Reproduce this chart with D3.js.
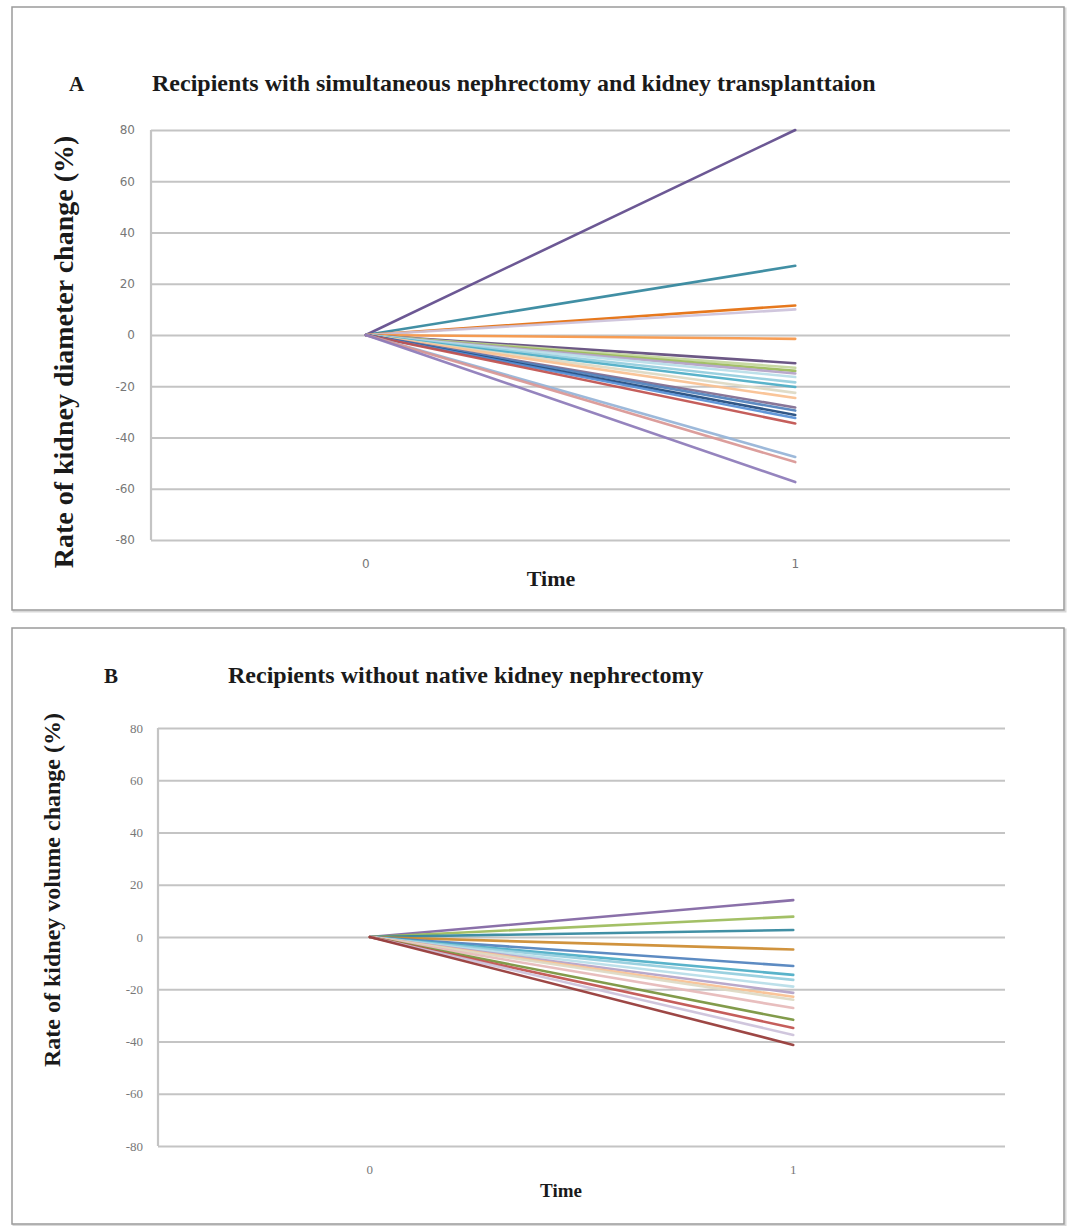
<!DOCTYPE html>
<html>
<head>
<meta charset="utf-8">
<script src="https://cdn.jsdelivr.net/npm/d3@7"></script>
<style>
  body { margin: 0; background: #fff; }
  svg { display: block; }
</style>
</head>
<body>
<svg id="chart" width="1069" height="1226"></svg>
<script>
// time points (categories on the x axis)
var timePoints = ["0", "1"];
var yTicks = [-80, -60, -40, -20, 0, 20, 40, 60, 80];

// panel A: rate of kidney diameter change (%), values at time 0 and 1
var seriesA = [
  [0, 80], [0, 27], [0, 11.5], [0, 10], [0, -1.5], [0, -11],
  [0, -12.8], [0, -14], [0, -15], [0, -16.4], [0, -18.5], [0, -20.3],
  [0, -22.6], [0, -24.6], [0, -28.3], [0, -29.5], [0, -31.2], [0, -32.4],
  [0, -34.5], [0, -47.6], [0, -49.6], [0, -57.4]
];
var colorsA = [
  "#5f4a8b", "#31859c", "#e46c0a", "#ccc1da", "#f79646", "#604a7b",
  "#c3d69b", "#9bbb59", "#b3a2c7", "#b7dde8", "#93cddd", "#4bacc6",
  "#ddd9c3", "#fac090", "#7f6a8f", "#4f81bd", "#1f497d", "#558ed5",
  "#c0504d", "#95b3d7", "#d99694", "#8c7ab8"
];

// panel B: rate of kidney volume change (%), values at time 0 and 1
var seriesB = [
  [0, 14.1], [0, 7.8], [0, 2.7], [0, -4.8], [0, -11.1], [0, -14.5],
  [0, -16.4], [0, -19], [0, -21.4], [0, -22.9], [0, -24], [0, -27.2],
  [0, -31.7], [0, -34.8], [0, -37.5], [0, -41.3]
];
var colorsB = [
  "#8064a2", "#9bbb59", "#31859c", "#cc8a2e", "#4f81bd", "#4bacc6",
  "#93cddd", "#b7dde8", "#b3a2c7", "#fac090", "#ddd9c3", "#e6b9b8",
  "#77933c", "#c0504d", "#ccc1da", "#953735"
];

var svg = d3.select("#chart");
var serif = "'Liberation Serif', 'Times New Roman', serif";

function drawPanel(opt) {
  var g = svg.append("g");

  // panel frame
  g.append("rect")
    .attr("x", opt.box[0] + 1.5).attr("y", opt.box[1] + 1.5)
    .attr("width", opt.box[2]).attr("height", opt.box[3])
    .attr("fill", "none").attr("stroke", "#d8d8d8").attr("stroke-width", 2);
  g.append("rect")
    .attr("x", opt.box[0]).attr("y", opt.box[1])
    .attr("width", opt.box[2]).attr("height", opt.box[3])
    .attr("fill", "#fff").attr("stroke", "#9a9a9a").attr("stroke-width", 1.5);

  var x = d3.scaleBand()
    .domain(timePoints)
    .range([opt.left, opt.right])
    .padding(0);

  var y = d3.scaleLinear()
    .domain([-80, 80])
    .range([opt.bottom, opt.top]);

  // gridlines + y axis labels
  var yAxis = d3.axisLeft(y)
    .tickValues(yTicks)
    .tickFormat(function (d) { return String(d); })
    .tickSize(-(opt.right - opt.left))
    .tickPadding(opt.tickPad);

  var ya = g.append("g")
    .attr("transform", "translate(" + opt.left + ",0)")
    .call(yAxis);
  ya.select(".domain").remove();
  ya.selectAll(".tick line")
    .attr("stroke", "#c4c4c4").attr("stroke-width", 2.2);
  ya.selectAll(".tick text")
    .attr("fill", "#777")
    .style("font-family", opt.tickFont)
    .style("font-size", opt.tickSize + "px");

  // left axis line
  g.append("line")
    .attr("x1", opt.left).attr("x2", opt.left)
    .attr("y1", opt.top).attr("y2", opt.bottom)
    .attr("stroke", "#c4c4c4").attr("stroke-width", 2.2);

  // x axis labels
  var xAxis = d3.axisBottom(x).tickSize(0).tickPadding(opt.xPad);
  var xa = g.append("g")
    .attr("transform", "translate(0," + opt.bottom + ")")
    .call(xAxis);
  xa.select(".domain").remove();
  xa.selectAll(".tick text")
    .attr("fill", "#777")
    .style("font-family", opt.tickFont)
    .style("font-size", opt.tickSize + "px");

  // series lines
  var line = d3.line()
    .x(function (d, i) { return x(timePoints[i]) + x.bandwidth() / 2; })
    .y(function (d) { return y(d); });

  g.append("g")
    .selectAll("path")
    .data(opt.series)
    .join("path")
    .attr("d", line)
    .attr("fill", "none")
    .attr("stroke", function (d, i) { return opt.colors[i]; })
    .attr("stroke-width", 2.6)
    .attr("stroke-opacity", 0.92)
    .attr("stroke-linecap", "round");

  // titles
  g.append("text")
    .attr("x", opt.letterX).attr("y", opt.titleY)
    .style("font-family", serif)
    .style("font-weight", "bold")
    .style("font-size", "21px")
    .attr("fill", "#1a1a1a")
    .text(opt.letter);
  g.append("text")
    .attr("x", opt.titleX).attr("y", opt.titleY)
    .style("font-family", serif)
    .style("font-weight", "bold")
    .style("font-size", "24px")
    .attr("fill", "#1a1a1a")
    .text(opt.title);

  g.append("text")
    .attr("transform", "translate(" + opt.yLabelX + "," + opt.yLabelY + ") rotate(-90)")
    .attr("text-anchor", "middle")
    .style("font-family", serif)
    .style("font-weight", "bold")
    .style("font-size", opt.yLabelSize + "px")
    .attr("fill", "#1a1a1a")
    .text(opt.yLabel);

  g.append("text")
    .attr("x", opt.timeX).attr("y", opt.timeY)
    .attr("text-anchor", "middle")
    .style("font-family", serif)
    .style("font-weight", "bold")
    .style("font-size", opt.timeSize + "px")
    .attr("fill", "#1a1a1a")
    .text("Time");
}

drawPanel({
  box: [12, 7, 1052, 603],
  left: 151, right: 1010, top: 130, bottom: 540,
  tickPad: 16, xPad: 19, tickFont: "'DejaVu Sans', sans-serif", tickSize: 12,
  series: seriesA, colors: colorsA,
  letter: "A", letterX: 69, titleX: 152, titleY: 91,
  title: "Recipients with simultaneous nephrectomy and kidney transplanttaion",
  yLabel: "Rate of kidney diameter change (%)", yLabelX: 73, yLabelY: 352, yLabelSize: 28,
  timeX: 551, timeY: 586, timeSize: 22
});

drawPanel({
  box: [12, 628, 1052, 596],
  left: 158, right: 1005, top: 728, bottom: 1146,
  tickPad: 15, xPad: 19, tickFont: serif, tickSize: 13,
  series: seriesB, colors: colorsB,
  letter: "B", letterX: 104, titleX: 228, titleY: 683,
  title: "Recipients without native kidney nephrectomy",
  yLabel: "Rate of kidney volume change (%)", yLabelX: 60, yLabelY: 890, yLabelSize: 24,
  timeX: 561, timeY: 1197, timeSize: 19
});
</script>
</body>
</html>
